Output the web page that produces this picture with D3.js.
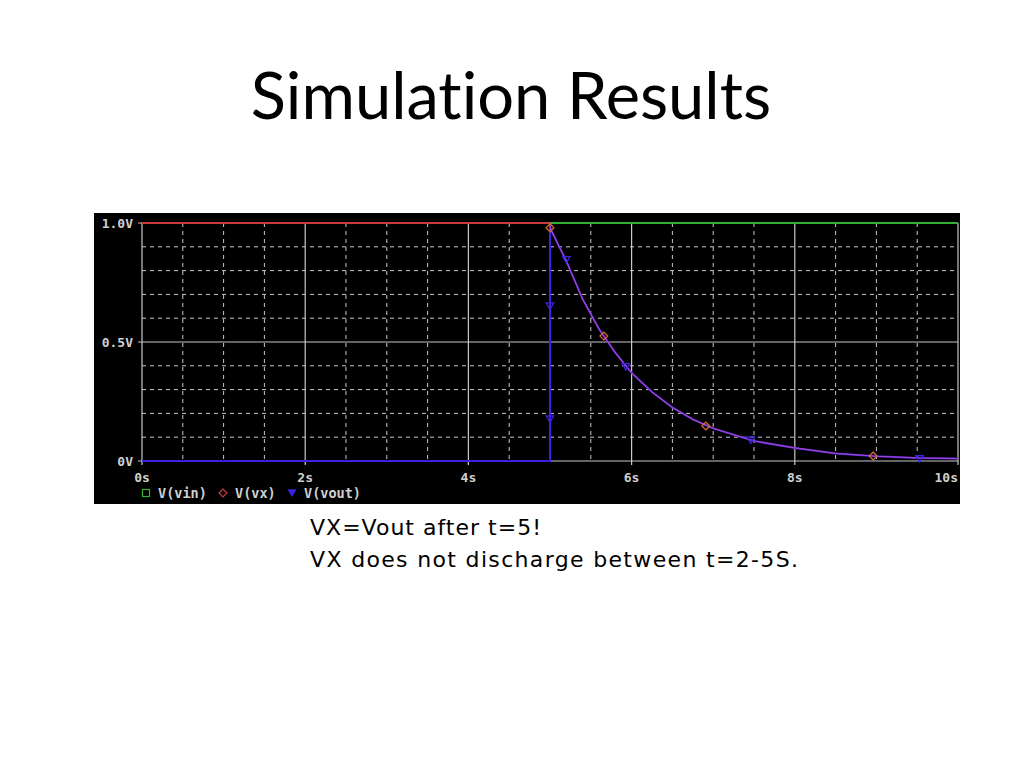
<!DOCTYPE html>
<html><head><meta charset="utf-8">
<script src="https://cdn.jsdelivr.net/npm/d3@7"></script>
<style>body{margin:0;background:#fff;} svg{display:block;} text{font-variant-ligatures:none;}</style>
</head><body>
<script>
// ---- data ----
const xTicks = [0, 2, 4, 6, 8, 10];
const xTickLabels = ["0s", "2s", "4s", "6s", "8s", "10s"];
const yTicks = [0, 0.5, 1.0];
const yTickLabels = ["0V", "0.5V", "1.0V"];
const seriesNames = ["V(vin)", "V(vx)", "V(vout)"];

const vinT = [0, 10];
const vinV = [1.0, 1.0];

const decayT = [5, 5.2, 5.4, 5.6, 5.8, 6.0, 6.25, 6.5, 6.75, 7.0, 7.5, 8.0, 8.5, 9.0, 9.5, 10.0];
const decayV = [0.98, 0.84, 0.68, 0.555, 0.455, 0.37, 0.29, 0.225, 0.175, 0.137, 0.084, 0.055, 0.032, 0.02, 0.013, 0.01];

const vxT = [0, 5].concat(decayT);
const vxV = [1.0, 1.0].concat(decayV);
const voutT = [0, 5, 5].concat(decayT);
const voutV = [0, 0, 1.0].concat(decayV);

const vxMarkT = [5.0, 5.66, 6.91, 8.96];
const vxMarkV = [0.98, 0.525, 0.147, 0.021];
const voutMarkT = [5.0, 5.0, 5.2, 5.93, 7.46, 9.53];
const voutMarkV = [0.18, 0.655, 0.85, 0.40, 0.092, 0.013];

const title = "Simulation Results";
const caption = ["VX=Vout after t=5!", "VX does not discharge between t=2-5S."];
const captionWidths = [231, 488];

// ---- drawing ----
const W = 1024, H = 768;
const svg = d3.select("body").append("svg").attr("width", W).attr("height", H);

svg.append("text").attr("x", 511).attr("y", 119).attr("text-anchor", "middle")
  .attr("font-family", "Lato, 'Open Sans', sans-serif").attr("font-size", 65)
  .attr("fill", "#000").text(title);

svg.append("rect").attr("x", 94).attr("y", 213).attr("width", 866).attr("height", 291).attr("fill", "#000");

const x = d3.scaleLinear().domain([0, 10]).range([142, 958]);
const y = d3.scaleLinear().domain([0, 1]).range([461, 223]);
const gridCol = "#c8c8c8";

const g = svg.append("g");
const minorX = d3.range(0.5, 10, 0.5).filter(v => v % 2 !== 0);
g.selectAll(".vx").data(minorX).enter().append("line")
  .attr("x1", d => x(d)).attr("x2", d => x(d)).attr("y1", y(1)).attr("y2", y(0))
  .attr("stroke", gridCol).attr("stroke-width", 1).attr("stroke-dasharray", "4,4");
const minorY = [0.1, 0.2, 0.3, 0.4, 0.6, 0.7, 0.8, 0.9];
g.selectAll(".hy").data(minorY).enter().append("line")
  .attr("x1", x(0)).attr("x2", x(10)).attr("y1", d => y(d)).attr("y2", d => y(d))
  .attr("stroke", gridCol).attr("stroke-width", 1).attr("stroke-dasharray", "4,4");
g.selectAll(".mx").data(xTicks).enter().append("line")
  .attr("x1", d => x(d)).attr("x2", d => x(d)).attr("y1", y(1)).attr("y2", y(0) + 4)
  .attr("stroke", gridCol).attr("stroke-width", 1.2);
g.selectAll(".my").data(yTicks).enter().append("line")
  .attr("x1", x(0) - 4).attr("x2", x(10)).attr("y1", d => y(d)).attr("y2", d => y(d))
  .attr("stroke", gridCol).attr("stroke-width", 1.2);

const monoFont = "'DejaVu Sans Mono', 'Liberation Mono', monospace";
g.selectAll(".yl").data(yTicks).enter().append("text")
  .attr("x", x(0) - 9).attr("y", d => y(d) + 5).attr("text-anchor", "end")
  .attr("font-family", monoFont).attr("font-weight", "bold").attr("font-size", 13)
  .attr("fill", "#d0d0d0").text((d, i) => yTickLabels[i]);
g.selectAll(".xl").data(xTicks).enter().append("text")
  .attr("x", d => x(d)).attr("y", 482)
  .attr("text-anchor", (d, i) => i === xTicks.length - 1 ? "end" : "middle")
  .attr("font-family", monoFont).attr("font-weight", "bold").attr("font-size", 13)
  .attr("fill", "#d0d0d0").text((d, i) => xTickLabels[i]);

const line = d3.line().x(d => x(d[0])).y(d => y(d[1]));
const zip = (a, b) => a.map((v, i) => [v, b[i]]);

const cVin = "#2fb02f", cVx = "#c83a3a", cVout = "#3a22e0";
svg.append("path").attr("d", line(zip(vinT, vinV))).attr("fill", "none").attr("stroke", cVin).attr("stroke-width", 2);
svg.append("path").attr("d", line(zip(voutT, voutV))).attr("fill", "none").attr("stroke", cVout).attr("stroke-width", 2);
svg.append("path").attr("d", line(zip(vxT.slice(0, 2), vxV.slice(0, 2)))).attr("fill", "none").attr("stroke", cVx).attr("stroke-width", 2);
svg.append("path").attr("d", line(zip(vxT.slice(1), vxV.slice(1)))).attr("fill", "none").attr("stroke", "#d050c0").attr("stroke-width", 1.2).attr("opacity", 0.75);

const diamond = d3.symbol().type(d3.symbolDiamond2).size(40);
svg.selectAll(".dm").data(zip(vxMarkT, vxMarkV)).enter().append("path")
  .attr("d", diamond).attr("transform", d => `translate(${x(d[0])},${y(d[1])})`)
  .attr("fill", "none").attr("stroke", "#e07030").attr("stroke-width", 1.2);
const tri = d3.symbol().type(d3.symbolTriangle2).size(40);
svg.selectAll(".tr").data(zip(voutMarkT, voutMarkV)).enter().append("path")
  .attr("d", tri).attr("transform", d => `translate(${x(d[0])},${y(d[1])}) rotate(180)`)
  .attr("fill", "none").attr("stroke", cVout).attr("stroke-width", 1.3);

// legend
const lg = svg.append("g").attr("font-family", monoFont).attr("font-weight", "bold").attr("font-size", 13.5).attr("fill", "#d0d0d0");
const legX = [146, 223, 292];
lg.append("rect").attr("x", legX[0] - 3.5).attr("y", 489.5).attr("width", 7).attr("height", 7).attr("fill", "none").attr("stroke", cVin).attr("stroke-width", 1.2);
lg.append("path").attr("d", diamond).attr("transform", `translate(${legX[1]},493)`).attr("fill", "none").attr("stroke", cVx).attr("stroke-width", 1.2);
lg.append("path").attr("d", tri).attr("transform", `translate(${legX[2]},492) rotate(180)`).attr("fill", cVout).attr("stroke", cVout);
seriesNames.forEach((s, i) => lg.append("text").attr("x", legX[i] + 12).attr("y", 498).text(s));

// caption
const cap = svg.append("g").attr("font-family", "'DejaVu Sans', sans-serif").attr("font-size", 22).attr("fill", "#000");
caption.forEach((c, i) => cap.append("text").attr("x", 310).attr("y", 535 + i * 32)
  .attr("textLength", captionWidths[i]).attr("lengthAdjust", "spacing").text(c));
</script>
</body></html>
